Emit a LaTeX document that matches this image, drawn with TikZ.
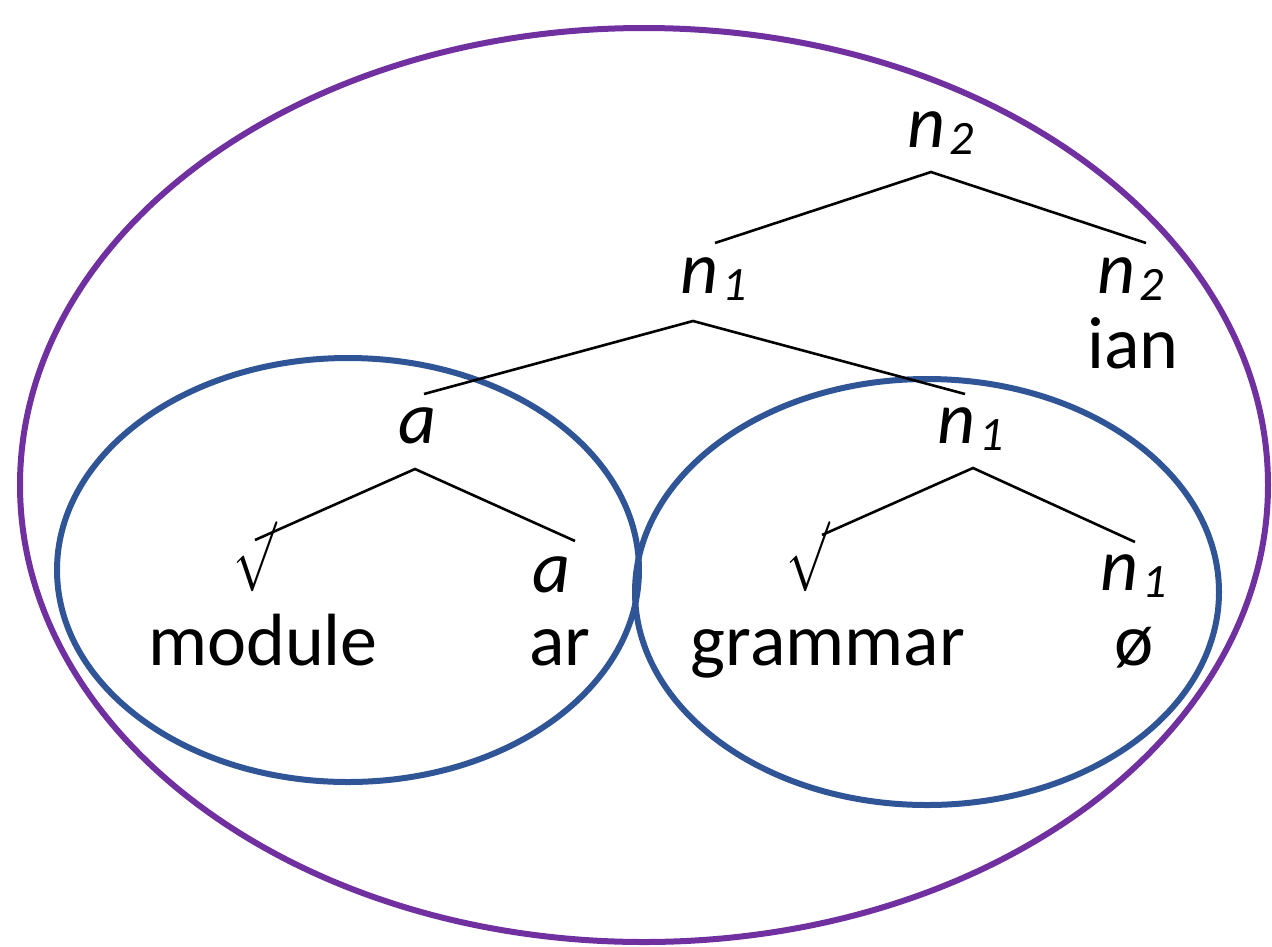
\documentclass[tikz,border=0pt]{standalone}
\usepackage{graphicx}
\usepackage{fontspec}
\setmainfont{Carlito}
\definecolor{outerpurple}{HTML}{7030A0}
\definecolor{innerblue}{HTML}{2F5597}
\newcommand\subdig[1]{\raisebox{-7pt}{\fontsize{48}{48}\selectfont\itshape #1}}
\newcommand\cat[2]{\itshape #1\kern4pt\subdig{#2}}
\newcommand\bigsurd{\scalebox{5.2}[7.0]{$\surd$}}
\begin{document}
\begin{tikzpicture}[x=1pt,y=-1pt,
  lbl/.style={anchor=base,inner sep=0pt,font=\fontsize{74}{80}\selectfont},
  rootsign/.style={anchor=center,inner sep=0pt},
  branch/.style={draw=black,line width=2.6pt},
  bigring/.style={draw=outerpurple,line width=6pt},
  smallring/.style={draw=innerblue,line width=6pt}]
\useasboundingbox (0,0) rectangle (1272,946);
% rings
\draw[bigring] (644,485) ellipse [x radius=624, y radius=457];
\draw[smallring] (348,570) ellipse [x radius=291, y radius=212];
\draw[smallring] (927,592) ellipse [x radius=292, y radius=213];
% labels
\node[lbl] (top) at (941,147) {\cat{n}{2}};
\node[lbl] (nA) at (714,293) {\cat{n}{1}};
\node[lbl] (nB) at (1131,293) {\cat{n}{2}};
\node[lbl] (ian) at (1133,368) {ian};
\node[lbl] (aA) at (418,443) {\itshape a};
\node[lbl] (nC) at (971,443) {\cat{n}{1}};
\node[rootsign] (rootL) at (255,557) {\bigsurd};
\node[lbl] (aB) at (552,592) {\itshape a};
\node[rootsign] (rootR) at (808,557) {\bigsurd};
\node[lbl] (nD) at (1134,590) {\cat{n}{1}};
\node[lbl] (module) at (263,665) {module};
\node[lbl] (ar) at (560,665) {ar};
\node[lbl] (grammar) at (828,665) {grammar};
\node[lbl] (null) at (1134,665) {ø};
% branch points
\coordinate (pTop) at (931,172);
\coordinate (eTopL) at (715,243);
\coordinate (eTopR) at (1146,243);
\coordinate (pA) at (693,321);
\coordinate (eAL) at (424,394);
\coordinate (eAR) at (965,394);
\coordinate (pL) at (415,469);
\coordinate (eLL) at (255,540);
\coordinate (eLR) at (575,541);
\coordinate (pR) at (973,468);
\coordinate (eRL) at (822,535);
\coordinate (eRR) at (1135,542);
\draw[branch] (eTopL) -- (pTop) -- (eTopR);
\draw[branch] (eAL) -- (pA) -- (eAR);
\draw[branch] (eLL) -- (pL) -- (eLR);
\draw[branch] (eRL) -- (pR) -- (eRR);
\end{tikzpicture}
\end{document}
